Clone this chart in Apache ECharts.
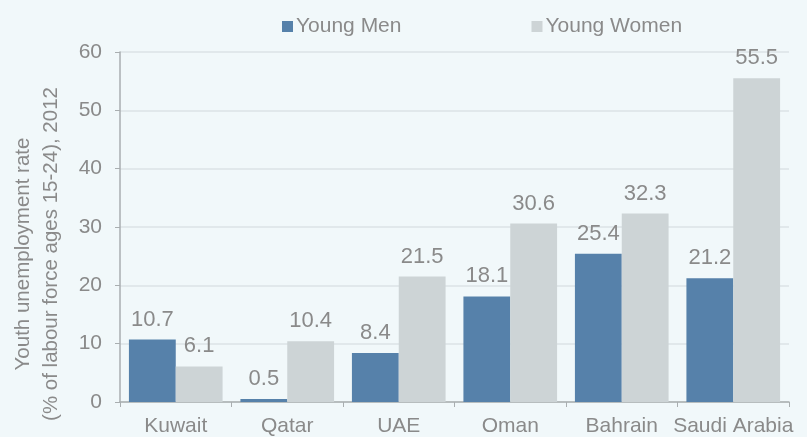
<!DOCTYPE html>
<html>
<head>
<meta charset="utf-8">
<script src="https://cdn.jsdelivr.net/npm/echarts@6/dist/echarts.min.js"></script>
<style>
html,body{margin:0;padding:0;background:#f1f8fa;}
#c{width:807px;height:437px;}
</style>
</head>
<body>
<div id="c"></div>
<script>
const categories = ['Kuwait', 'Qatar', 'UAE', 'Oman', 'Bahrain', 'Saudi Arabia'];
const youngMen = [10.7, 0.5, 8.4, 18.1, 25.4, 21.2];
const youngWomen = [6.1, 10.4, 21.5, 30.6, 32.3, 55.5];
const seriesNames = ['Young Men', 'Young Women'];
const yTitle = ['Youth unemployment rate', '(% of labour force ages 15-24), 2012'];

const textColor = '#8a8a8a';
const font = 'Liberation Sans, Arial, sans-serif';
const chart = echarts.init(document.getElementById('c'));
chart.setOption({
  backgroundColor: '#f1f8fa',
  animation: false,
  textStyle: { fontFamily: font },
  grid: { left: 120, right: 18, top: 52, bottom: 34, containLabel: false },
  legend: {
    data: seriesNames,
    left: 277,
    top: 11,
    itemWidth: 11,
    itemHeight: 11,
    itemGap: 130,
    textStyle: { fontSize: 21, color: textColor, fontFamily: font, padding: [0, 0, 0, -2] },
    icon: 'rect'
  },
  xAxis: {
    type: 'category',
    data: categories,
    axisLine: { lineStyle: { color: '#a9aeb0', width: 1.5 } },
    axisTick: { show: true, length: 5, lineStyle: { color: '#a9aeb0' } },
    axisLabel: { fontSize: 21, color: textColor, margin: 14, interval: 0 }
  },
  yAxis: {
    type: 'value',
    min: 0, max: 60, interval: 10,
    axisLine: { show: true, lineStyle: { color: '#a9aeb0', width: 1.5 } },
    axisTick: { show: true, length: 5, lineStyle: { color: '#a9aeb0' } },
    axisLabel: { fontSize: 21, color: textColor, margin: 18 },
    splitLine: { lineStyle: { color: '#dbe3e6', width: 1.5 } }
  },
  graphic: [{
    type: 'text',
    rotation: Math.PI / 2,
    x: 9,
    y: 254,
    style: {
      text: yTitle.join('\n'),
      fontSize: 20.5,
      lineHeight: 28,
      fill: textColor,
      fontFamily: font,
      align: 'center',
      verticalAlign: 'top'
    }
  }],
  series: [
    {
      name: seriesNames[0], type: 'bar', data: youngMen,
      barGap: '0%', barCategoryGap: '16%',
      itemStyle: { color: '#5681aa' },
      label: { show: true, position: 'top', distance: 9, fontSize: 22, color: textColor, fontFamily: font }
    },
    {
      name: seriesNames[1], type: 'bar', data: youngWomen,
      barGap: '0%', barCategoryGap: '16%',
      itemStyle: { color: '#cdd4d6' },
      label: { show: true, position: 'top', distance: 9, fontSize: 22, color: textColor, fontFamily: font }
    }
  ]
});
</script>
</body>
</html>
